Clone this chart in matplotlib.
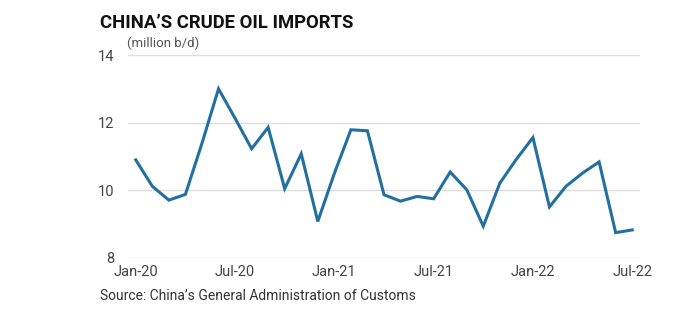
import matplotlib
matplotlib.use('Agg')
import matplotlib.pyplot as plt

months = ['Jan-20', 'Feb-20', 'Mar-20', 'Apr-20', 'May-20', 'Jun-20',
          'Jul-20', 'Aug-20', 'Sep-20', 'Oct-20', 'Nov-20', 'Dec-20',
          'Jan-21', 'Feb-21', 'Mar-21', 'Apr-21', 'May-21', 'Jun-21',
          'Jul-21', 'Aug-21', 'Sep-21', 'Oct-21', 'Nov-21', 'Dec-21',
          'Jan-22', 'Feb-22', 'Mar-22', 'Apr-22', 'May-22', 'Jun-22',
          'Jul-22']
imports = [10.90, 10.12, 9.71, 9.88, 11.39, 13.00,
           12.13, 11.23, 11.86, 10.05, 11.08, 9.08,
           10.50, 11.79, 11.76, 9.87, 9.68, 9.82,
           9.75, 10.54, 10.02, 8.94, 10.21, 10.92,
           11.56, 9.51, 10.12, 10.51, 10.84, 8.75,
           8.83]
tick_labels = ['Jan-20', 'Jul-20', 'Jan-21', 'Jul-21', 'Jan-22', 'Jul-22']
y_ticks = [8, 10, 12, 14]

plt.rcParams['font.family'] = ['Roboto', 'DejaVu Sans']

fig = plt.figure(figsize=(6.9, 3.32), dpi=100)
ax = fig.add_axes([0.1855, 0.2229, 0.742, 0.6114])

x = list(range(len(months)))
ax.plot(x, imports, color='#23709f', lw=2.2, solid_joinstyle='miter')

ax.set_ylim(8, 14)
ax.set_xlim(-0.47, len(months) - 1 + 0.47)
ax.set_yticks(y_ticks)
ax.set_xticks([months.index(m) for m in tick_labels])
ax.set_xticklabels(tick_labels)
ax.grid(axis='y', color='#dddddd', lw=1.0)
ax.set_axisbelow(True)
for s in ax.spines.values():
    s.set_visible(False)
ax.tick_params(axis='both', length=0, labelsize=10.5, colors='#444444')
ax.tick_params(axis='x', pad=5)
ax.tick_params(axis='y', pad=10)

fig.text(100 / 690, 1 - 28 / 332, 'CHINA\u2019S CRUDE OIL IMPORTS',
         fontsize=13.3, fontweight='bold', color='#111111', ha='left', va='baseline')
fig.text(127 / 690, 1 - 47 / 332, '(million b/d)', fontsize=9.5,
         color='#555555', ha='left', va='baseline')
fig.text(100 / 690, 1 - 300 / 332, 'Source: China\u2019s General Administration of Customs',
         fontsize=10, color='#333333', ha='left', va='baseline')

fig.savefig('out.png', dpi=100)
